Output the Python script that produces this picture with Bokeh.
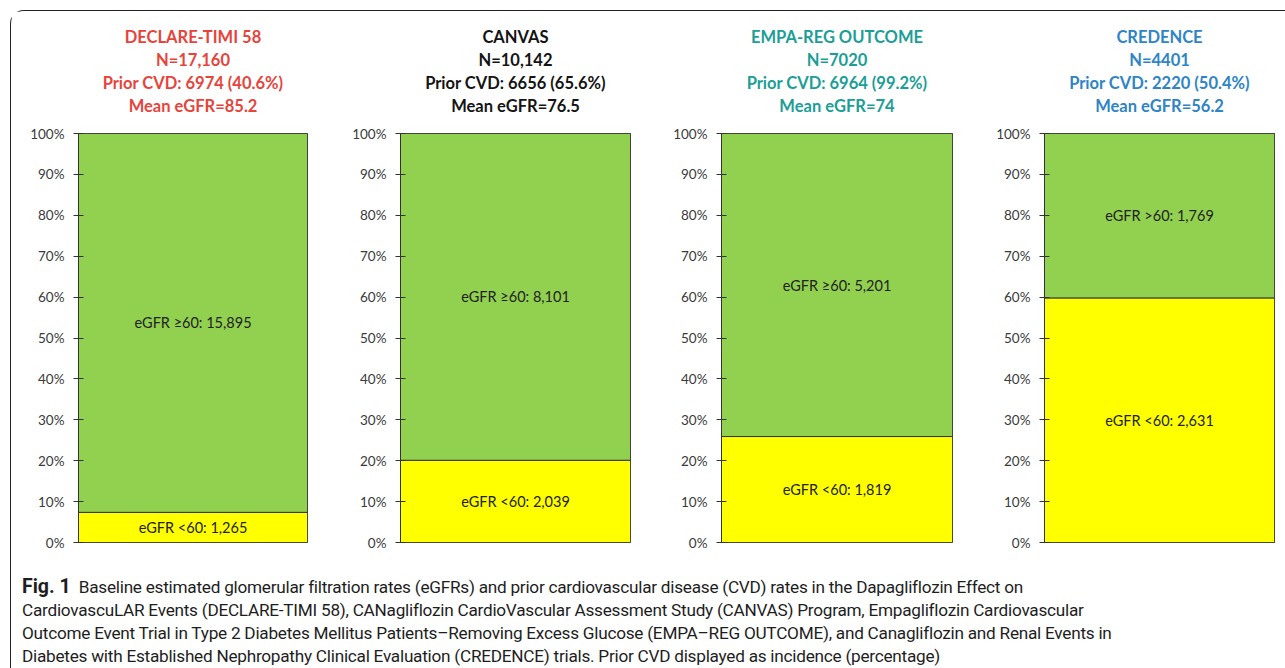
from bokeh.plotting import figure
from bokeh.models import Range1d, FixedTicker, PrintfTickFormatter, Title, Div, ColumnDataSource
from bokeh.layouts import row, column
from bokeh.core.properties import value
from bokeh.embed import file_html
from bokeh.resources import INLINE

# ---- data ----
trials = ["DECLARE-TIMI 58", "CANVAS", "EMPA-REG OUTCOME", "CREDENCE"]
n_total = ["17,160", "10,142", "7020", "4401"]
prior_cvd = ["6974 (40.6%)", "6656 (65.6%)", "6964 (99.2%)", "2220 (50.4%)"]
mean_egfr = ["85.2", "76.5", "74", "56.2"]
egfr_low = [1265, 2039, 1819, 2631]      # eGFR <60
egfr_high = [15895, 8101, 5201, 1769]    # eGFR >=60
high_ops = ["\u226560", "\u226560", "\u226560", ">60"]
ticks = [0, 10, 20, 30, 40, 50, 60, 70, 80, 90, 100]

title_colors = ["#e8433b", "#141414", "#1b9e96", "#2d84c6"]
FONT = "Lato"

# layout geometry
fig_w = [329, 320, 325, 297]
border_l = [67, 60, 61, 59]
border_r = [33, 30, 33, 8]
TOP = 122
FRAME_H = 409
FIG_H = TOP + FRAME_H + 14

figs = []
for i in range(4):
    lo, hi = egfr_low[i], egfr_high[i]
    tot = lo + hi
    pct_lo = lo / tot * 100.0
    src = ColumnDataSource(dict(
        x=[0, 0],
        bottom=[0, pct_lo],
        top=[pct_lo, 100],
        color=["#ffff00", "#92d050"],
        ymid=[pct_lo / 2, (pct_lo + 100) / 2],
        label=[f"eGFR <60: {lo:,}", f"eGFR {high_ops[i]}: {hi:,}"],
    ))
    p = figure(width=fig_w[i], height=FIG_H, x_range=Range1d(-0.5, 0.5), y_range=Range1d(0, 100),
               output_backend="svg", toolbar_location=None,
               min_border_left=border_l[i], min_border_right=border_r[i],
               min_border_top=TOP, min_border_bottom=FIG_H - TOP - FRAME_H)
    p.vbar(x="x", width=1, bottom="bottom", top="top", fill_color="color",
           line_color="#333333", line_width=1, source=src)
    p.text(x="x", y="ymid", text="label", source=src, text_align="center", text_baseline="middle",
           text_font=value(FONT), text_font_size="14.5px", text_color="#222222")
    p.xaxis.visible = False
    p.xgrid.visible = False
    p.ygrid.visible = False
    p.outline_line_color = "#333333"
    ax = p.yaxis[0]
    ax.ticker = FixedTicker(ticks=ticks)
    ax.formatter = PrintfTickFormatter(format="%d%%")
    ax.minor_tick_line_color = None
    ax.major_tick_in = 5
    ax.major_tick_out = 5
    ax.major_tick_line_color = "#333333"
    ax.axis_line_color = "#333333"
    ax.major_label_text_font = FONT
    ax.major_label_text_font_size = "13.5px"
    ax.major_label_text_color = "#3a3a3a"
    ax.major_label_standoff = 9
    # spacer between the title block and the plot frame
    p.add_layout(Title(text="\u00a0", text_font_size="13px", standoff=0), "above")
    lines = [f"Mean eGFR={mean_egfr[i]}", f"Prior CVD: {prior_cvd[i]}", f"N={n_total[i]}", trials[i]]
    for t in lines:
        p.add_layout(Title(text=t, align="center", text_font=FONT, text_font_size="16.5px",
                           text_font_style="bold", text_color=title_colors[i], standoff=1), "above")
    figs.append(p)

caption_html = (
    "<b style='font-size:19.5px;letter-spacing:0'>Fig.&nbsp;1</b>&nbsp;&nbsp;Baseline estimated glomerular filtration rates (eGFRs) and prior cardiovascular disease (CVD) rates in the Dapagliflozin Effect on<br>"
    "CardiovascuLAR Events (DECLARE-TIMI 58), CANagliflozin CardioVascular Assessment Study (CANVAS) Program, Empagliflozin Cardiovascular<br>"
    "Outcome Event Trial in Type 2 Diabetes Mellitus Patients\u2013Removing Excess Glucose (EMPA\u2013REG OUTCOME), and Canagliflozin and Renal Events in<br>"
    "Diabetes with Established Nephropathy Clinical Evaluation (CREDENCE) trials. Prior CVD displayed as incidence (percentage)"
)
cap = Div(text=caption_html, width=1265, height=106,
          styles={"font-family": "Roboto, sans-serif", "font-size": "17.2px", "letter-spacing": "-0.25px",
                  "line-height": "23px", "color": "#1e1e1e", "white-space": "nowrap",
                  "padding-left": "6px", "padding-top": "14px"})

layout = column(row(*figs), cap, margin=(10, 0, 0, 10),
                styles={"border-top": "1.5px solid #222", "border-left": "1.5px solid #222",
                        "border-top-left-radius": "14px"})

open("out.html", "w").write(file_html(layout, INLINE))
